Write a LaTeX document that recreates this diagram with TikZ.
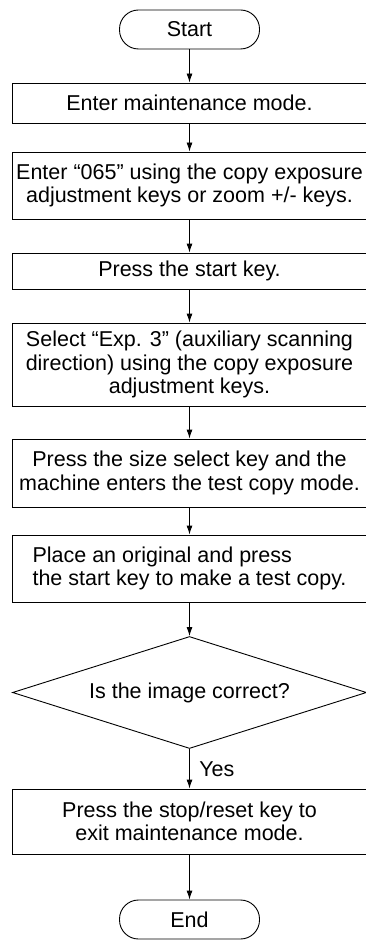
\documentclass[tikz,border=0pt]{standalone}
\usepackage{fontspec}
\setmainfont{Liberation Sans}
\usetikzlibrary{shapes.geometric,arrows.meta}
\begin{document}
\begin{tikzpicture}[x=1pt,y=-1pt,line width=0.9pt,
    txt/.style={font=\fontsize{21.5}{23.5}\selectfont},
    box/.style={txt,draw,minimum width=354pt,inner sep=0pt,align=center},
    term/.style={txt,draw,rounded corners=19pt,minimum width=140pt,minimum height=39pt,inner sep=0pt},
    flow/.style={-{Latex[length=9pt,width=6pt]}}]

    \useasboundingbox (0,0) rectangle (365,941);

    \node[term] (start) at (189.5,29.5) {Start};
    \node[box,minimum height=40pt] (enter) at (189.5,103) {Enter maintenance mode.};
    \node[box,minimum height=67pt] (code) at (189.5,185.5) {Enter “065” using the copy exposure\\adjustment keys or zoom +/- keys.};
    \node[box,minimum height=36pt] (press) at (189.5,271) {Press the start key.};
    \node[box,minimum height=83pt] (select) at (189.5,364.5) {Select “Exp. 3” (auxiliary scanning\\direction) using the copy exposure\\adjustment keys.};
    \node[box,minimum height=68pt] (size) at (189.5,473) {Press the size select key and the\\machine enters the test copy mode.};
    \node[box,minimum height=67pt,align=left] (place) at (189.5,568.5) {Place an original and press\\the start key to make a test copy.};
    \node[txt,draw,diamond,aspect=3.16,minimum width=354pt,minimum height=112pt,inner sep=0pt] (check) at (189.5,692.5) {Is the image correct?};
    \node[box,minimum height=65pt] (stop) at (189.5,821.5) {Press the stop/reset key to\\exit maintenance mode.};
    \node[term] (end) at (189.5,919.5) {End};

    \draw[flow] (start) -- (enter);
    \draw[flow] (enter) -- (code);
    \draw[flow] (code) -- (press);
    \draw[flow] (press) -- (select);
    \draw[flow] (select) -- (size);
    \draw[flow] (size) -- (place);
    \draw[flow] (place) -- (check);
    \draw[flow] (check) -- node[txt,right=6pt] (yes) {Yes} (stop);
    \draw[flow] (stop) -- (end);

\end{tikzpicture}
\end{document}
